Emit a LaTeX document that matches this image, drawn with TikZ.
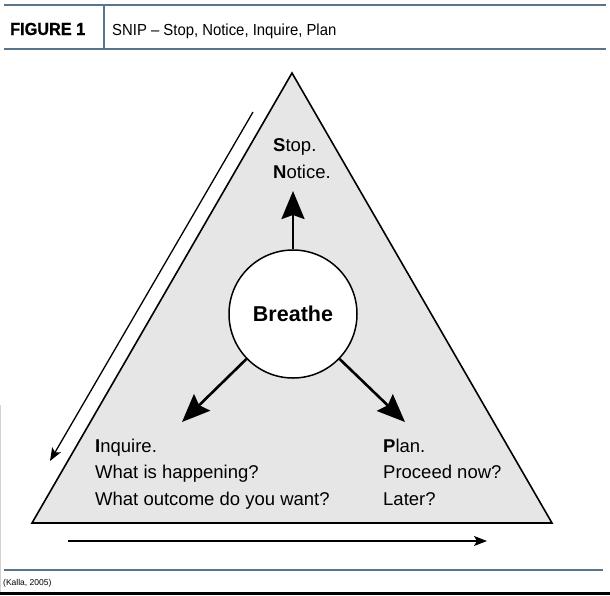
\documentclass[tikz,border=0pt]{standalone}
\usepackage{fontspec}
\setmainfont{Liberation Sans}
\newfontfamily\headfont[FakeStretch=0.93]{Liberation Sans}
\newfontfamily\headbold[FakeStretch=0.93,FakeBold=0.8]{Liberation Sans}
\usepackage{tikz}
\usetikzlibrary{arrows.meta}
\definecolor{RuleBlue}{HTML}{5C7487}
\definecolor{TriangleFill}{HTML}{E6E6E6}

\begin{document}
\begin{tikzpicture}[
  x=1pt,y=-1pt,
  rule/.style={draw=RuleBlue,line width=2pt},
  steptext/.style={font=\fontsize{18.5}{26.5}\selectfont,align=left,anchor=north west,inner sep=0pt},
  bigarrow/.style={line width=2.6pt,-{Stealth[length=28pt,width=23pt,inset=4pt]}},
  flowarrow/.style={line width=1.3pt,-{Stealth[length=13pt,width=10pt,inset=3pt]}},
]
  \useasboundingbox (0,0) rectangle (610,595);

  \draw[rule] (4,5) -- (606,5);
  \draw[rule] (4,49) -- (606,49);
  \draw[draw=RuleBlue,line width=1.2pt] (104,5) -- (104,49);
  \node[font=\headbold\bfseries\fontsize{17.5}{19}\selectfont,anchor=base west,inner sep=0pt] (figlabel) at (10,35) {FIGURE 1};
  \node[font=\headfont\fontsize{16}{18}\selectfont,anchor=base west,inner sep=0pt] (figtitle) at (112,35) {SNIP – Stop, Notice, Inquire, Plan};

  \coordinate (apex) at (292,73);
  \coordinate (baseright) at (552,523);
  \coordinate (baseleft) at (32,523);
  \draw[line width=1.6pt,fill=TriangleFill] (apex) -- (baseright) -- (baseleft) -- cycle;

  \coordinate (leftstart) at (253,112);
  \coordinate (lefttip) at (50,461);
  \coordinate (basestart) at (68,541);
  \coordinate (basetip) at (487,541);
  \draw[flowarrow] (leftstart) -- (lefttip);
  \draw[flowarrow] (basestart) -- (basetip);

  \node[circle,draw,line width=1.5pt,fill=white,minimum size=128pt,inner sep=0pt,
    font=\bfseries\fontsize{21.5}{24}\selectfont] (breathe) at (293,314) {Breathe};

  \node[steptext] (stopnotice) at (273,138.5) {\textbf{S}top.\\\textbf{N}otice.};
  \node[steptext] (inquire) at (95,438.7) {\textbf{I}nquire.\\What is happening?\\What outcome do you want?};
  \node[steptext] (plan) at (383,438.7) {\textbf{P}lan.\\Proceed now?\\Later?};

  \coordinate (uptip) at (293,191);
  \coordinate (inquiretip) at (182,422);
  \coordinate (plantip) at (405,422);
  \draw[bigarrow] (breathe.90) -- (uptip);
  \draw[bigarrow] (breathe.224) -- (inquiretip);
  \draw[bigarrow] (breathe.316) -- (plantip);

  \draw[rule] (4,570) -- (603,570);
  \node[font=\fontsize{8.5}{10}\selectfont,anchor=base west,inner sep=0pt] (source) at (3,585.5) {(Kalla, 2005)};
  \draw[gray!35,line width=0.8pt] (0.5,405) -- (0.5,592);
  \fill (0,592) rectangle (610,595);
\end{tikzpicture}
\end{document}
